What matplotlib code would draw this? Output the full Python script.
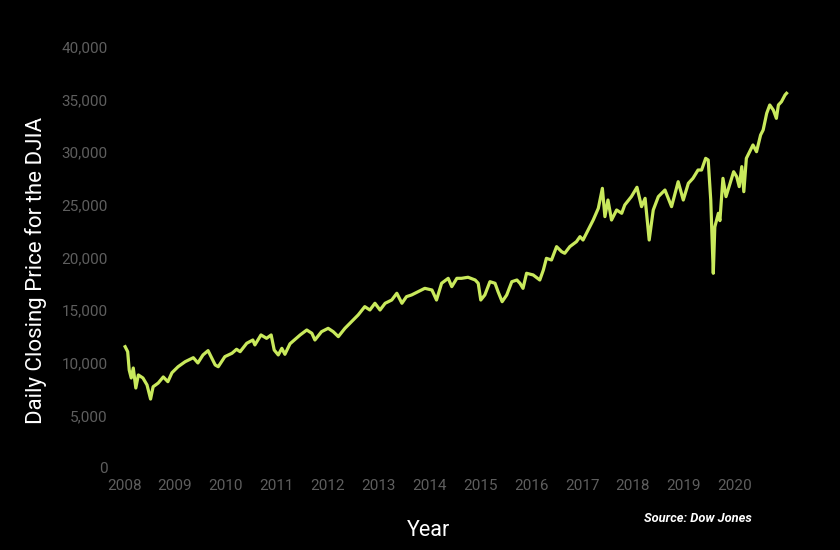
import matplotlib
matplotlib.use("Agg")
import matplotlib.pyplot as plt
from matplotlib.ticker import FuncFormatter

# chart-year position of each reading and the DJIA close
years = [
    2008.02, 2008.07, 2008.10, 2008.14, 2008.18, 2008.23, 2008.28, 2008.37, 2008.45, 2008.52,
    2008.57, 2008.67, 2008.77, 2008.86, 2008.94, 2009.06, 2009.20, 2009.36, 2009.45, 2009.55,
    2009.65, 2009.79, 2009.85, 2009.98, 2010.12, 2010.21, 2010.28, 2010.41, 2010.53, 2010.57,
    2010.69, 2010.80, 2010.89, 2010.95, 2011.03, 2011.10, 2011.16, 2011.26, 2011.46, 2011.59,
    2011.69, 2011.75, 2011.88, 2012.01, 2012.11, 2012.21, 2012.34, 2012.47, 2012.60, 2012.73,
    2012.83, 2012.93, 2013.03, 2013.13, 2013.26, 2013.36, 2013.46, 2013.55, 2013.65, 2013.78,
    2013.91, 2014.05, 2014.14, 2014.24, 2014.37, 2014.44, 2014.54, 2014.63, 2014.76, 2014.90,
    2014.96, 2015.01, 2015.09, 2015.19, 2015.29, 2015.35, 2015.43, 2015.52, 2015.62, 2015.72,
    2015.78, 2015.84, 2015.91, 2016.04, 2016.17, 2016.24, 2016.30, 2016.40, 2016.50, 2016.60,
    2016.66, 2016.76, 2016.89, 2016.96, 2017.02, 2017.12, 2017.22, 2017.32, 2017.40, 2017.45,
    2017.51, 2017.58, 2017.68, 2017.78, 2017.84, 2017.97, 2018.08, 2018.17, 2018.24, 2018.32,
    2018.40, 2018.50, 2018.63, 2018.76, 2018.89, 2018.99, 2019.09, 2019.18, 2019.28, 2019.35,
    2019.43, 2019.48, 2019.53, 2019.58, 2019.61, 2019.68, 2019.71, 2019.77, 2019.83, 2019.91,
    2019.98, 2020.04, 2020.09, 2020.14, 2020.18, 2020.23, 2020.36, 2020.43, 2020.51, 2020.56,
    2020.63, 2020.69, 2020.76, 2020.82, 2020.86, 2020.92, 2020.99, 2021.02,
]
closes = [
    11525, 11050, 9310, 8550, 9500, 7600, 8840, 8550, 7890, 6550,
    7720, 8070, 8650, 8200, 9050, 9620, 10100, 10480, 9980, 10740,
    11150, 9790, 9620, 10580, 10900, 11280, 11050, 11850, 12160, 11690,
    12640, 12320, 12640, 11210, 10740, 11370, 10800, 11800, 12640, 13110,
    12800, 12160, 12950, 13270, 12950, 12480, 13270, 13900, 14540, 15330,
    15010, 15650, 15010, 15650, 15960, 16600, 15650, 16280, 16440, 16750,
    17070, 16910, 15960, 17550, 18020, 17230, 18020, 18020, 18120, 17860,
    17550, 15960, 16440, 17700, 17550, 16750, 15800, 16440, 17700, 17860,
    17550, 17070, 18500, 18340, 17860, 18810, 19920, 19760, 21030, 20550,
    20400, 21030, 21500, 21980, 21660, 22610, 23560, 24670, 26570, 23880,
    25460, 23560, 24510, 24200, 24990, 25780, 26670, 24830, 25620, 21660,
    24510, 25780, 26410, 24830, 27200, 25460, 27050, 27520, 28310, 28310,
    29420, 29260, 25460, 18500, 22900, 24200, 23500, 27520, 25780, 27050,
    28150, 27680, 26730, 28630, 26250, 29420, 30690, 30050, 31640, 32110,
    33700, 34490, 34010, 33220, 34490, 34800, 35440, 35600,
]

year_ticks = list(range(2008, 2021))
price_ticks = list(range(0, 40001, 5000))

line_color = "#c9e95c"
tick_color = "#5e5e5e"

plt.rcParams["font.family"] = ["Roboto", "DejaVu Sans"]

fig = plt.figure(figsize=(8.4, 5.5), dpi=100, facecolor="black")
ax = fig.add_axes([0.1417, 0.1491, 0.8298, 0.7655], facecolor="black")

ax.plot(years, closes, color=line_color, linewidth=2.3, solid_joinstyle="round")

ax.set_xlim(2007.9, 2021.6)
ax.set_ylim(0, 40000)
ax.set_xticks(year_ticks)
ax.set_xticklabels([str(y) for y in year_ticks])
ax.set_yticks(price_ticks)
ax.yaxis.set_major_formatter(FuncFormatter(lambda v, p: f"{int(v):,}"))

ax.tick_params(axis="both", length=0, colors=tick_color, labelsize=11)
ax.tick_params(axis="y", pad=8)
ax.tick_params(axis="x", pad=8)
for s in ax.spines.values():
    s.set_visible(False)

fig.text(36 / 840, 1 - 270 / 550, "Daily Closing Price for the DJIA", rotation=90,
         color="white", fontsize=16, ha="center", va="center")
fig.text(429 / 840, 1 - 531 / 550, "Year", color="white", fontsize=15.5,
         ha="center", va="center")
fig.text(752 / 840, 1 - 518 / 550, "Source: Dow Jones", color="white", fontsize=9.3,
         fontweight="bold", fontstyle="italic", ha="right", va="center")

fig.savefig("out.png", dpi=100, facecolor="black")
